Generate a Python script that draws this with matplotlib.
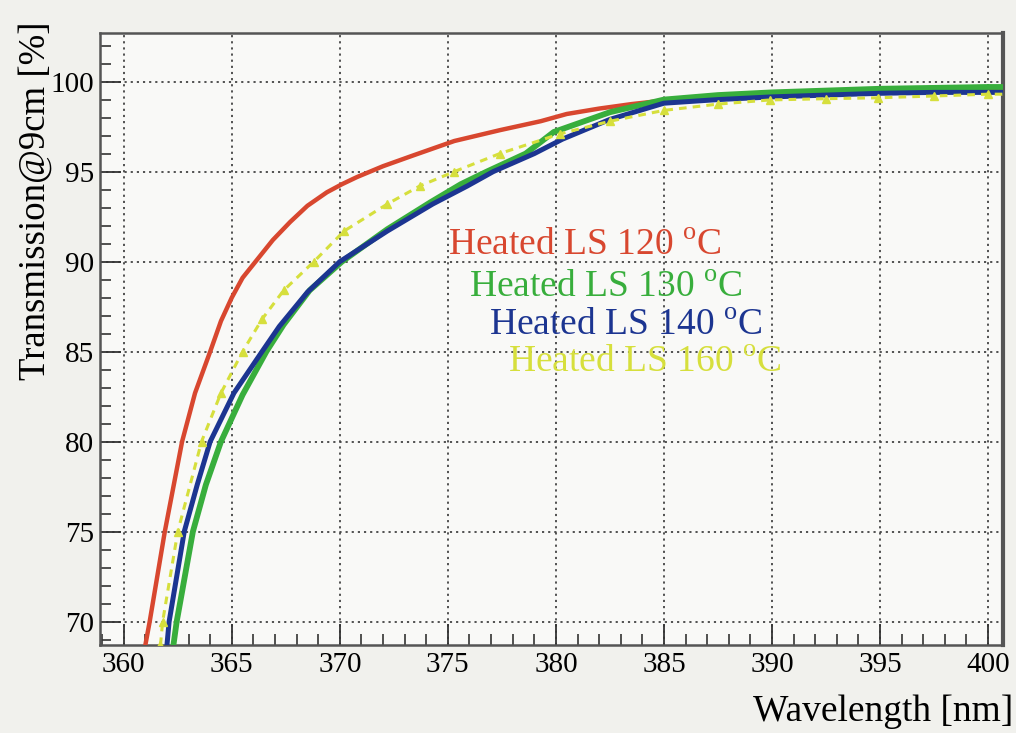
import matplotlib
matplotlib.use("Agg")
import matplotlib.pyplot as plt
from matplotlib.ticker import MultipleLocator

plt.rcParams['font.family'] = ['Liberation Serif', 'DejaVu Serif']
plt.rcParams['mathtext.fontset'] = 'custom'
plt.rcParams['mathtext.rm'] = 'Liberation Serif'

# ---- data ----
red_x = [361.0, 361.2, 361.9, 362.7, 363.3, 364.0, 364.5, 365.0, 365.5, 366.1, 366.9, 367.7,
         368.5, 369.4, 370.1, 370.8, 372.0, 373.4, 375.3, 377.4, 379.3, 380.5, 382.0, 383.5,
         385.0, 387.5, 390.0, 392.5, 395.0, 397.5, 400.0, 401.0]
red_y = [68.7, 70.0, 75.0, 80.0, 82.7, 85.0, 86.7, 88.0, 89.1, 90.0, 91.2, 92.2,
         93.1, 93.85, 94.3, 94.7, 95.3, 95.9, 96.7, 97.3, 97.8, 98.2, 98.5, 98.75,
         98.95, 99.15, 99.3, 99.35, 99.4, 99.45, 99.5, 99.5]

green_x = [362.3, 362.45, 363.2, 363.8, 364.5, 365.5, 366.6, 367.4, 368.6, 370.1, 372.2, 374.2,
           375.6, 376.8, 378.6, 379.9, 382.5, 385.0, 387.5, 390.0, 392.5, 395.0, 397.5, 400.0, 401.0]
green_y = [68.7, 70.0, 75.0, 77.6, 80.0, 82.6, 85.0, 86.5, 88.4, 90.0, 91.8, 93.3,
           94.3, 95.0, 96.0, 97.2, 98.3, 99.0, 99.25, 99.4, 99.5, 99.6, 99.65, 99.7, 99.7]

blue_x = [362.0, 362.1, 362.8, 363.4, 364.0, 365.1, 366.4, 367.2, 368.5, 370.0, 372.2, 374.3,
          375.9, 377.1, 379.0, 380.3, 382.5, 385.0, 387.5, 390.0, 392.5, 395.0, 397.5, 400.0, 401.0]
blue_y = [68.7, 70.0, 75.0, 77.6, 80.0, 82.7, 85.0, 86.4, 88.3, 90.0, 91.7, 93.2,
          94.2, 95.0, 96.0, 96.8, 97.9, 98.8, 99.0, 99.15, 99.25, 99.35, 99.4, 99.4, 99.4]

yellow_x = [361.7, 361.8, 362.5, 363.6, 364.5, 365.5, 366.4, 367.4, 368.8, 370.2, 372.2, 373.7,
            375.3, 377.4, 380.2, 382.5, 385.0, 387.5, 389.9, 392.5, 394.9, 397.5, 400.0, 401.0]
yellow_y = [68.7, 70.0, 75.0, 80.0, 82.7, 85.0, 86.8, 88.4, 90.0, 91.7, 93.2, 94.2,
            95.0, 96.0, 97.1, 97.8, 98.4, 98.75, 98.98, 99.05, 99.1, 99.2, 99.3, 99.3]

labels = ["Heated LS 120 $^{\\mathrm{o}}$C", "Heated LS 130 $^{\\mathrm{o}}$C",
          "Heated LS 140 $^{\\mathrm{o}}$C", "Heated LS 160 $^{\\mathrm{o}}$C"]
x_ticks = [360, 365, 370, 375, 380, 385, 390, 395, 400]
y_ticks = [70, 75, 80, 85, 90, 95, 100]

c_red = '#d8472f'
c_green = '#38ae3c'
c_blue = '#1c3591'
c_yellow = '#d6df3c'

fig = plt.figure(figsize=(10.16, 7.33), dpi=100, facecolor='#f1f1ed')
ax = fig.add_axes([0.0984, 0.12, 0.889, 0.835])
ax.set_facecolor('#f9f9f7')

ax.plot(red_x, red_y, color=c_red, lw=3.2, zorder=3)
ax.plot(blue_x, blue_y, color=c_blue, lw=3.6, zorder=4)
ax.plot(green_x, green_y, color=c_green, lw=4.2, zorder=3.5)
ax.plot(yellow_x, yellow_y, color=c_yellow, lw=2.2, ls=(0, (2.5, 2)), marker='^', ms=5.5,
        markevery=0.011, zorder=5)

ax.set_xlim(358.9, 400.7)
ax.set_ylim(68.7, 102.7)
ax.set_xticks(x_ticks)
ax.set_yticks(y_ticks)
ax.xaxis.set_minor_locator(MultipleLocator(1))
ax.yaxis.set_minor_locator(MultipleLocator(1))
ax.tick_params(which='major', direction='in', length=15, width=1.3, color='#333333',
               labelsize=21, top=False, right=False)
ax.tick_params(axis='x', which='major', pad=5)
ax.tick_params(axis='y', which='major', pad=4)
ax.tick_params(which='minor', direction='in', length=8, width=1.2, color='#333333',
               top=False, right=False)
ax.grid(True, which='major', ls=(0, (1.2, 2.2)), color='#444444', lw=1.3)

for s in ax.spines.values():
    s.set_color('#555555')
    s.set_linewidth(1.8)
ax.spines['right'].set_linewidth(3)

fs_leg = 27
ax.text(375.0, 90.9, labels[0], color=c_red, fontsize=fs_leg, va='center', ha='left', zorder=6)
ax.text(376.0, 88.55, labels[1], color=c_green, fontsize=fs_leg, va='center', ha='left', zorder=6)
ax.text(376.9, 86.45, labels[2], color=c_blue, fontsize=fs_leg, va='center', ha='left', zorder=6)
ax.text(377.8, 84.4, labels[3], color=c_yellow, fontsize=fs_leg, va='center', ha='left', zorder=6)

fig.text(0.035, 0.726, "Transmission@9cm [%]", rotation=90, fontsize=26.5, va='center', ha='center')
fig.text(0.997, 0.029, "Wavelength [nm]", fontsize=27, va='center', ha='right')

fig.savefig("out.png", dpi=100, facecolor=fig.get_facecolor())
